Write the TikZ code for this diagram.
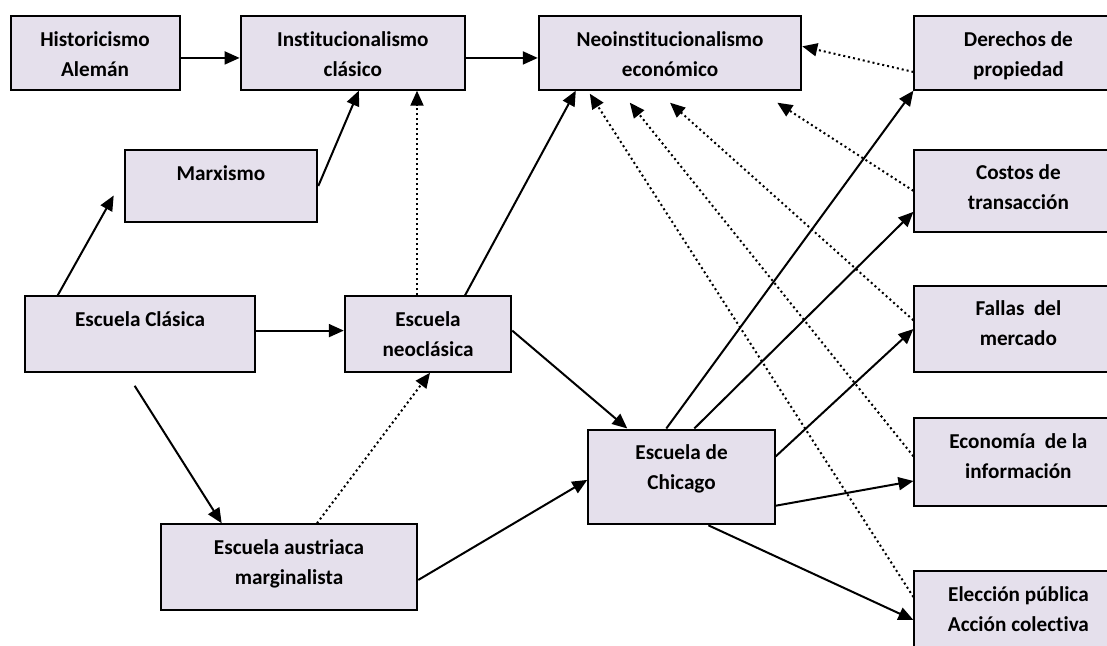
\documentclass[tikz,border=0pt]{standalone}
\usepackage{fontspec}
\setmainfont{Carlito}[Ligatures=CommonOff]
\usepackage{xcolor}
\usetikzlibrary{arrows.meta}
\definecolor{lila}{HTML}{E5E0EC}

\tikzset{
  caja/.style={draw, fill=lila, line width=1pt, inner sep=0pt, anchor=north west},
  letra/.style={anchor=base, inner sep=0pt, align=center, font=\bfseries\fontsize{10.6}{15}\selectfont},
  texto/.style={letra, yshift=-30.5pt},
  unalinea/.style={letra, yshift=-15.8pt},
  flecha/.style={-{Triangle[length=7.5pt,width=6.5pt]}, line width=1pt},
  punteada/.style={-{Triangle[length=7.5pt,width=6.5pt]}, line width=1pt, dash pattern=on 1pt off 1.5pt}
}

\begin{document}
\begin{tikzpicture}[x=0.5pt, y=-0.5pt]
  \useasboundingbox (0,0) rectangle (1107,646);
  \clip (0,0) rectangle (1107,646);

  % cajas
  \node[caja, minimum width=84.5pt, minimum height=36.75pt, label={[texto]north:{Historicismo\\Alemán}}] (hist) at (9.5,15.2) {};
  \node[caja, minimum width=112.25pt, minimum height=36.75pt, label={[texto]north:{Institucionalismo\\clásico}}] (inst) at (239.6,15.2) {};
  \node[caja, minimum width=131.25pt, minimum height=36.75pt, label={[texto]north:{Neoinstitucionalismo\\económico}}] (neo) at (537.8,15.2) {};
  \node[caja, minimum width=104pt, minimum height=36.75pt, label={[texto]north:{Derechos de\\propiedad}}] (der) at (913.4,15.2) {};
  \node[caja, minimum width=96.3pt, minimum height=36pt, label={[unalinea]north:{Marxismo}}] (marx) at (123.7,149) {};
  \node[caja, minimum width=104pt, minimum height=40.85pt, label={[texto]north:{Costos de\\transacción}}] (costos) at (913.4,149) {};
  \node[caja, minimum width=115.35pt, minimum height=37.7pt, label={[unalinea]north:{Escuela Clásica}}] (clasica) at (23.7,295.4) {};
  \node[caja, minimum width=83.2pt, minimum height=37.7pt, label={[texto]north:{Escuela\\neoclásica}}] (neoc) at (343.8,295.4) {};
  \node[caja, minimum width=104pt, minimum height=43pt, label={[texto]north:{Fallas~~del\\mercado}}] (fallas) at (913.4,285) {};
  \node[caja, minimum width=93.25pt, minimum height=47.4pt, label={[texto]north:{Escuela de\\Chicago}}] (chicago) at (587.3,428.5) {};
  \node[caja, minimum width=104pt, minimum height=44pt, label={[texto]north:{Economía~~de la\\información}}] (econ) at (913.4,417) {};
  \node[caja, minimum width=128.3pt, minimum height=42.85pt, label={[texto]north:{Escuela austriaca\\marginalista}}] (austr) at (159.7,523.3) {};
  \node[caja, minimum width=104pt, minimum height=45pt, label={[texto]north:{Elección pública\\Acción colectiva}}] (elec) at (913.4,570) {};

  % flechas de la izquierda
  \draw[flecha] ([yshift=-2.5pt]hist.east) -- ([yshift=-2.5pt]inst.west);
  \draw[flecha] ([yshift=-2.5pt]inst.east) -- ([yshift=-2.5pt]neo.west);
  \draw[flecha] (marx.east) -- ([xshift=3pt]inst.south);
  \draw[punteada] ([xshift=-5.5pt]neoc.north) -- ([xshift=-5.5pt]neoc.north |- inst.south);
  \draw[flecha] ([xshift=17pt]clasica.north west) -- ([xshift=-5pt,yshift=-4.75pt]marx.west);
  \draw[flecha] ([yshift=1.75pt]clasica.east) -- ([yshift=1.75pt]neoc.west);
  \draw[flecha] ([xshift=-2.7pt,yshift=-6.5pt]clasica.south) -- ([xshift=31pt]austr.north west);
  \draw[punteada] ([xshift=14pt]austr.north) -- ([xshift=1pt]neoc.south);
  \draw[flecha] ([xshift=18.5pt]neoc.north) -- ([xshift=19pt]neo.south west);
  \draw[flecha] ([yshift=1.75pt]neoc.east) -- ([xshift=20pt]chicago.north west);
  \draw[flecha] ([yshift=-6.4pt]austr.east) -- ([yshift=-1.5pt]chicago.west);

  % flechas punteadas hacia el neoinstitucionalismo
  \draw[punteada] ([yshift=-9.5pt]der.west) -- ([yshift=3.3pt]neo.east);
  \draw[punteada] (costos.west) -- ([xshift=-12.5pt,yshift=-6pt]neo.south east);
  \draw[punteada] ([yshift=4.35pt]fallas.west) -- ([yshift=-6pt]neo.south);
  \draw[punteada] ([yshift=2.85pt]econ.west) -- ([xshift=46pt,yshift=-6pt]neo.south west);
  \draw[punteada] ([yshift=-13.5pt]elec.north west) -- ([xshift=26pt,yshift=-1.5pt]neo.south west);

  % escuela de Chicago
  \draw[flecha] ([xshift=39.5pt]chicago.north west) -- (der.south west);
  \draw[flecha] ([xshift=53.5pt]chicago.north west) -- ([yshift=-10.5pt]costos.west);
  \draw[flecha] ([yshift=10.3pt]chicago.east) -- (fallas.west);
  \draw[flecha] ([yshift=-14.4pt]chicago.east) -- ([yshift=-9.5pt]econ.west);
  \draw[flecha] ([xshift=13.4pt]chicago.south) -- ([yshift=-25pt]elec.north west);
\end{tikzpicture}
\end{document}
